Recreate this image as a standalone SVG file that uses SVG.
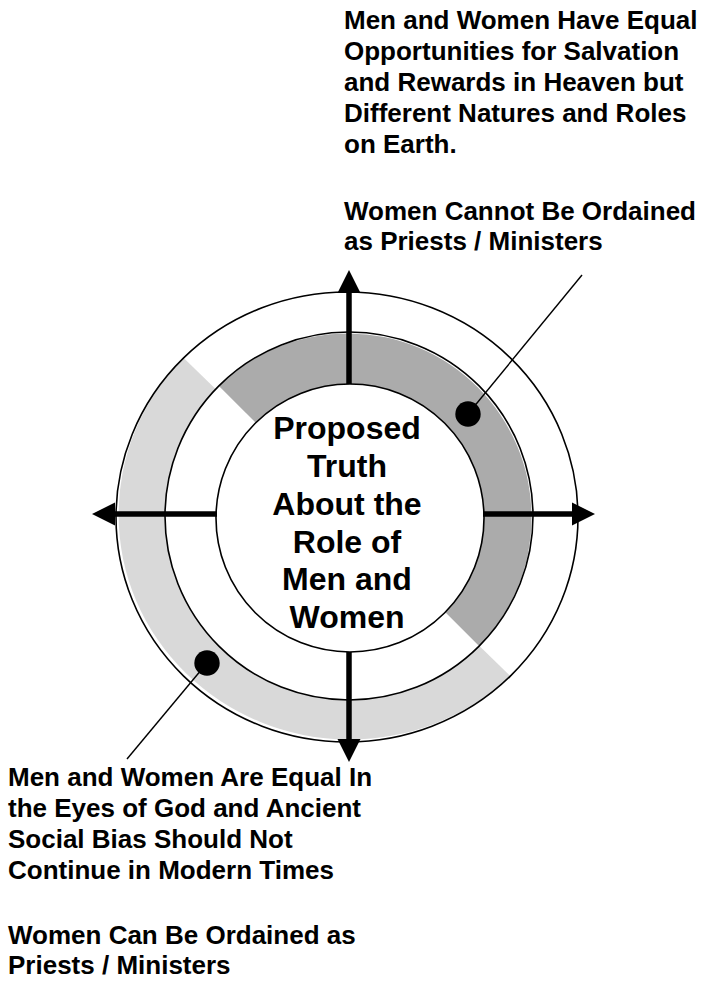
<svg xmlns="http://www.w3.org/2000/svg" width="703" height="982" viewBox="0 0 703 982">
<defs>
<style>
.t{font-family:"Liberation Sans",Arial,sans-serif;font-weight:bold;font-size:26px;fill:#000}
.c{font-family:"Liberation Sans",Arial,sans-serif;font-weight:bold;font-size:32px;fill:#000;text-anchor:middle}
.ring{fill:none;stroke:#000;stroke-width:1.6}
.hub{fill:#fff;stroke:#000;stroke-width:1.6}
.ax{stroke:#000;stroke-width:5.5;fill:none}
.lead{stroke:#000;stroke-width:1.4;fill:none}
</style>
<marker id="ah" viewBox="0 0 10 10" refX="0" refY="5" markerWidth="23" markerHeight="24" markerUnits="userSpaceOnUse" orient="auto">
<path d="M0,0 L10,5 L0,10 Z" fill="#000"/>
</marker>
</defs>
<rect width="703" height="982" fill="#fff"/>
<g id="rings">
<ellipse cx="347" cy="517" rx="231" ry="225" fill="#fff"/>
<path d="M183.7,357.9 A231,225 0 0 0 510.3,676.1 Z" fill="#d9d9d9"/>
<ellipse class="ring" cx="347" cy="517" rx="231" ry="225"/>
<circle cx="349" cy="516" r="184" fill="#fff"/>
<path d="M218.9,385.9 A184,184 0 0 1 479.1,646.1 Z" fill="#ababab"/>
<circle class="ring" cx="349" cy="516" r="184"/>
</g>
<g id="center">
<circle class="hub" cx="350" cy="518" r="134"/>
<text class="c" x="347" y="439">Proposed</text>
<text class="c" x="347" y="477">Truth</text>
<text class="c" x="347" y="515">About the</text>
<text class="c" x="347" y="553">Role of</text>
<text class="c" x="347" y="590">Men and</text>
<text class="c" x="347" y="628">Women</text>
</g>
<g id="connectors">
<line class="ax" x1="349" y1="384" x2="349" y2="293" marker-end="url(#ah)"/>
<line class="ax" x1="349" y1="652" x2="349" y2="739" marker-end="url(#ah)"/>
<line class="ax" x1="217" y1="514" x2="115" y2="514" marker-end="url(#ah)"/>
<line class="ax" x1="483" y1="514" x2="572" y2="514" marker-end="url(#ah)"/>
<line class="lead" x1="468" y1="414" x2="582" y2="275"/>
<line class="lead" x1="207" y1="663" x2="127" y2="759"/>
</g>
<g id="dot-upper">
<circle cx="468" cy="414" r="12.7" fill="#000"/>
</g>
<g id="dot-lower">
<circle cx="207" cy="663" r="12.7" fill="#000"/>
</g>
<g id="label-upper">
<text class="t" x="344" y="28.5">Men and Women Have Equal</text>
<text class="t" x="344" y="59.5">Opportunities for Salvation</text>
<text class="t" x="344" y="90.5">and Rewards in Heaven but</text>
<text class="t" x="344" y="121.5">Different Natures and Roles</text>
<text class="t" x="344" y="152.5">on Earth.</text>
<text class="t" x="344" y="219.5">Women Cannot Be Ordained</text>
<text class="t" x="344" y="250">as Priests / Ministers</text>
</g>
<g id="label-lower">
<text class="t" x="8" y="786">Men and Women Are Equal In</text>
<text class="t" x="8" y="817">the Eyes of God and Ancient</text>
<text class="t" x="8" y="848">Social Bias Should Not</text>
<text class="t" x="8" y="879">Continue in Modern Times</text>
<text class="t" x="8" y="944">Women Can Be Ordained as</text>
<text class="t" x="8" y="974">Priests / Ministers</text>
</g>
</svg>
